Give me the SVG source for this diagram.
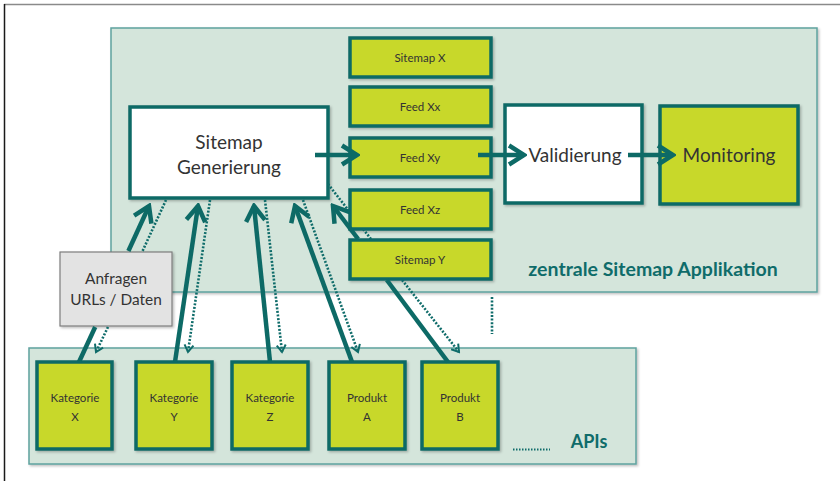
<svg xmlns="http://www.w3.org/2000/svg" width="840" height="481" viewBox="0 0 840 481">
<defs>
<style>
.panel{fill:#d4e5db;stroke:#5ea29f;stroke-width:1.5}
.wbox{fill:#ffffff;stroke:#0d6a66;stroke-width:3.5}
.lbox{fill:#c8d82a;stroke:#0d6a66;stroke-width:3.5}
.gbox{fill:#e3e3e3;stroke:#7d7d7d;stroke-width:1.2}
.t{font-family:Lato,"Open Sans","Liberation Sans",sans-serif;fill:#333333;text-anchor:middle}
.s{font-size:11.5px}
.m{font-size:19px}
.ttl{font-family:Lato,"Open Sans","Liberation Sans",sans-serif;font-weight:bold;fill:#0f6c6a}
.solid{stroke:#0d6a66;stroke-width:4.5;fill:none}
.dot{stroke:#0f6c6a;stroke-width:2.6;stroke-dasharray:2 1.6;fill:none}
</style>
<marker id="ah" viewBox="0 0 20 24" refX="17" refY="12" markerWidth="20" markerHeight="24" markerUnits="userSpaceOnUse" orient="auto">
<path d="M2,2.5 L17,12 L2,21.5" fill="none" stroke="#0d6a66" stroke-width="4.5"/>
</marker>
<marker id="ahs" viewBox="0 0 10 12" refX="8" refY="6" markerWidth="10" markerHeight="12" markerUnits="userSpaceOnUse" orient="auto">
<path d="M1,1.5 L8,6 L1,10.5" fill="none" stroke="#0f6c6a" stroke-width="2"/>
</marker>
<filter id="sh" x="-10%" y="-10%" width="130%" height="130%">
<feDropShadow dx="1.5" dy="1.5" stdDeviation="1.2" flood-color="#000" flood-opacity="0.25"/>
</filter>
</defs>
<rect width="840" height="481" fill="#ffffff"/>
<line x1="4" y1="4.5" x2="840" y2="4.5" stroke="#8a8a8a" stroke-width="1.5"/>
<line x1="4.5" y1="4" x2="4.5" y2="481" stroke="#1a1a1a" stroke-width="1.5"/>

<g id="app-panel">
<rect class="panel" x="111" y="28" width="706" height="264" filter="url(#sh)"/>
<text class="ttl" x="653" y="276" text-anchor="middle" font-size="19.5">zentrale Sitemap Applikation</text>
</g>
<g id="api-panel">
<rect class="panel" x="29" y="348" width="607" height="116" filter="url(#sh)"/>
<text class="ttl" x="589" y="448" text-anchor="middle" font-size="18">APIs</text>
<line x1="513" y1="449.5" x2="550" y2="449.5" stroke="#0f6c6a" stroke-width="2" stroke-dasharray="1.5 1.5"/>
</g>

<g id="sitemap-generierung">
<rect class="wbox" x="130" y="107" width="198" height="91" filter="url(#sh)"/>
<text class="t m" x="229" y="149">Sitemap</text>
<text class="t m" x="229" y="174">Generierung</text>
</g>
<g id="sitemap-x">
<rect class="lbox" x="350" y="38" width="141" height="39" filter="url(#sh)"/>
<text class="t s" x="420" y="62">Sitemap X</text>
</g>
<g id="feed-xx">
<rect class="lbox" x="350" y="87" width="141" height="39" filter="url(#sh)"/>
<text class="t s" x="420" y="111">Feed Xx</text>
</g>
<g id="feed-xy">
<rect class="lbox" x="350" y="138" width="141" height="39" filter="url(#sh)"/>
<text class="t s" x="420" y="162">Feed Xy</text>
</g>
<g id="feed-xz">
<rect class="lbox" x="350" y="190" width="141" height="39" filter="url(#sh)"/>
<text class="t s" x="420" y="214">Feed Xz</text>
</g>
<g id="sitemap-y">
<rect class="lbox" x="350" y="240" width="141" height="39" filter="url(#sh)"/>
<text class="t s" x="420" y="264">Sitemap Y</text>
</g>
<g id="validierung">
<rect class="wbox" x="505" y="105" width="137" height="98" filter="url(#sh)"/>
<text class="t" x="575" y="162" font-size="19">Validierung</text>
</g>
<g id="monitoring">
<rect class="lbox" x="660" y="106" width="138" height="98" filter="url(#sh)"/>
<text class="t" x="729" y="162" font-size="19">Monitoring</text>
</g>
<g id="anfragen">
<rect class="gbox" x="60" y="252" width="112" height="74" filter="url(#sh)"/>
<text class="t" x="116" y="284" font-size="15.4">Anfragen</text>
<text class="t" x="116" y="305" font-size="15.4">URLs / Daten</text>
</g>
<g id="kategorie-x">
<rect class="lbox" x="37" y="362" width="75" height="87" filter="url(#sh)"/>
<text class="t s" x="75" y="402">Kategorie</text>
<text class="t s" x="75" y="421">X</text>
</g>
<g id="kategorie-y">
<rect class="lbox" x="136" y="362" width="76" height="87" filter="url(#sh)"/>
<text class="t s" x="174" y="402">Kategorie</text>
<text class="t s" x="174" y="421">Y</text>
</g>
<g id="kategorie-z">
<rect class="lbox" x="232" y="362" width="76" height="87" filter="url(#sh)"/>
<text class="t s" x="270" y="402">Kategorie</text>
<text class="t s" x="270" y="421">Z</text>
</g>
<g id="produkt-a">
<rect class="lbox" x="329" y="362" width="76" height="87" filter="url(#sh)"/>
<text class="t s" x="367" y="402">Produkt</text>
<text class="t s" x="367" y="421">A</text>
</g>
<g id="produkt-b">
<rect class="lbox" x="422" y="362" width="76" height="87" filter="url(#sh)"/>
<text class="t s" x="460" y="402">Produkt</text>
<text class="t s" x="460" y="421">B</text>
</g>

<g id="connectors">
<line class="dot" x1="328" y1="184" x2="350" y2="212.2"/>
<line class="dot" x1="363.1" y1="229" x2="371.7" y2="240"/>
<line class="dot" x1="402.1" y1="280" x2="459" y2="352" marker-end="url(#ahs)"/>
<line class="dot" x1="492" y1="297" x2="492" y2="334"/>
<line class="dot" x1="166" y1="200" x2="142.1" y2="252"/>
<line class="dot" x1="108" y1="327" x2="96" y2="352" marker-end="url(#ahs)"/>
<line class="dot" x1="210" y1="200" x2="188" y2="352" marker-end="url(#ahs)"/>
<line class="dot" x1="265" y1="200" x2="282" y2="352" marker-end="url(#ahs)"/>
<line class="dot" x1="303" y1="200" x2="358" y2="352" marker-end="url(#ahs)"/>
<line class="solid" x1="79" y1="362" x2="95.2" y2="327"/>
<line class="solid" x1="128.4" y1="251" x2="149" y2="206" marker-end="url(#ah)"/>
<line class="solid" x1="175" y1="362" x2="198" y2="206" marker-end="url(#ah)"/>
<line class="solid" x1="270" y1="362" x2="254" y2="206" marker-end="url(#ah)"/>
<line class="solid" x1="352" y1="362" x2="295" y2="206" marker-end="url(#ah)"/>
<line class="solid" x1="448" y1="362" x2="386.8" y2="280"/>
<line class="solid" x1="358.1" y1="239" x2="333" y2="206" marker-end="url(#ah)"/>
<line class="solid" x1="315" y1="155" x2="357" y2="155" marker-end="url(#ah)"/>
<line class="solid" x1="478" y1="155" x2="524" y2="155" marker-end="url(#ah)"/>
<line class="solid" x1="628" y1="155" x2="673" y2="155" marker-end="url(#ah)"/>
</g>
</svg>
